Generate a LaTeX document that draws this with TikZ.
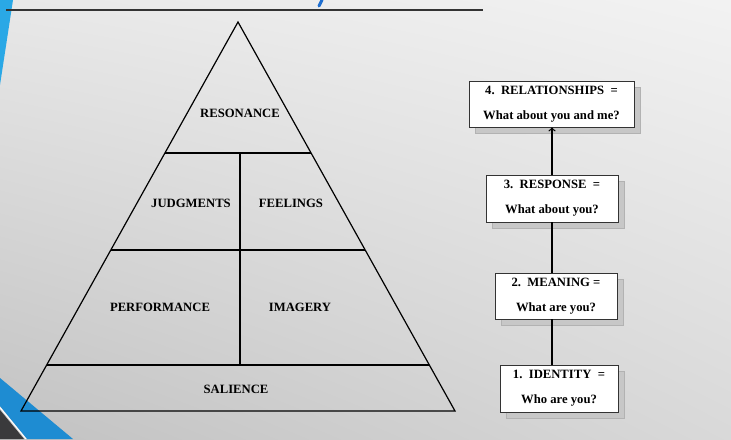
\documentclass[tikz,border=0pt]{standalone}
\usepackage{fontspec}
\setmainfont{Liberation Serif}
\usepackage{tikz}
\usetikzlibrary{arrows}
\usetikzlibrary{shadows}
\usetikzlibrary{shadings}

\definecolor{slideblue}{HTML}{1E8CD2}
\definecolor{slidelightblue}{HTML}{2AA8E6}
\definecolor{slidedark}{HTML}{3A3A3C}
\definecolor{titleblue}{HTML}{1F6FD0}

\begin{document}
\begin{tikzpicture}[x=0.75pt, y=-0.75pt,
  lvl/.style={text=black, font=\fontsize{9.5}{11}\selectfont\bfseries},
  stage/.style={draw=black!80, fill=white, line width=0.6pt, align=center, inner sep=0pt,
    font=\fontsize{9.5}{18.5}\selectfont\bfseries,
    general shadow={fill=black!22, draw=black!30, shadow xshift=4.5pt, shadow yshift=-4.5pt}}]
  % slide background
  \useasboundingbox (0, 0) rectangle (731, 439);
  \shade[upper left=black!9, upper right=black!5, lower left=black!24, lower right=black!15] (0, 0) rectangle (731, 439);
  \fill[slidelightblue] (0, 0) -- (13, 0) -- (0, 85) -- cycle;
  \fill[slideblue] (0, 378) -- (73, 439) -- (27, 439) -- (0, 406) -- cycle;
  \fill[slidedark] (0, 410) -- (24, 439) -- (0, 439) -- cycle;
  \draw[white, line width=0.8pt] (0, 407.5) -- (26, 439);
  \draw[titleblue, line width=2.2pt, line cap=round] (322, 0) -- (319, 6);
  \draw[black!80, line width=1pt] (6, 10) -- (483, 10);

  % pyramid
  \coordinate (apex) at (238, 22);
  \coordinate (bl) at (21, 411);
  \coordinate (br) at (455, 411);
  \draw[line width=0.9pt] (apex) -- (bl) -- (br) -- cycle;
  \draw[line width=0.9pt] (165, 153) -- (311, 153);
  \draw[line width=0.9pt] (111, 250) -- (365, 250);
  \draw[line width=0.9pt] (47, 365) -- (429, 365);
  \draw[line width=0.9pt] (240, 153) -- (240, 365);

  \node[lvl] (res) at (240, 113) {RESONANCE};
  \node[lvl] (jud) at (191, 203) {JUDGMENTS};
  \node[lvl] (fee) at (291, 203) {FEELINGS};
  \node[lvl] (per) at (160, 307) {PERFORMANCE};
  \node[lvl] (ima) at (300, 307) {IMAGERY};
  \node[lvl] (sal) at (236, 389) {SALIENCE};

  % brand building blocks
  \node[stage, minimum width=123.75pt, minimum height=34.5pt] (s4) at (551.5, 104) {4.\ \ RELATIONSHIPS\ \ =\\What about you and me?};
  \node[stage, minimum width=99pt, minimum height=35.25pt] (s3) at (552, 198.5) {3.\ \ RESPONSE\ \ =\\What about you?};
  \node[stage, minimum width=91.5pt, minimum height=34.5pt] (s2) at (556, 296) {2.\ \ MEANING\ =\\What are you?};
  \node[stage, minimum width=88.5pt, minimum height=35.25pt] (s1) at (559, 388.5) {1.\ \ IDENTITY\ \ =\\Who are you?};

  \draw[line width=1pt] (s1.north -| s3.south) -- (s2.south -| s3.south);
  \draw[line width=1pt] (s2.north -| s3.south) -- (s3.south);
  \draw[->, line width=1pt] (s3.north) -- (s4.south -| s3.north);
\end{tikzpicture}
\end{document}
